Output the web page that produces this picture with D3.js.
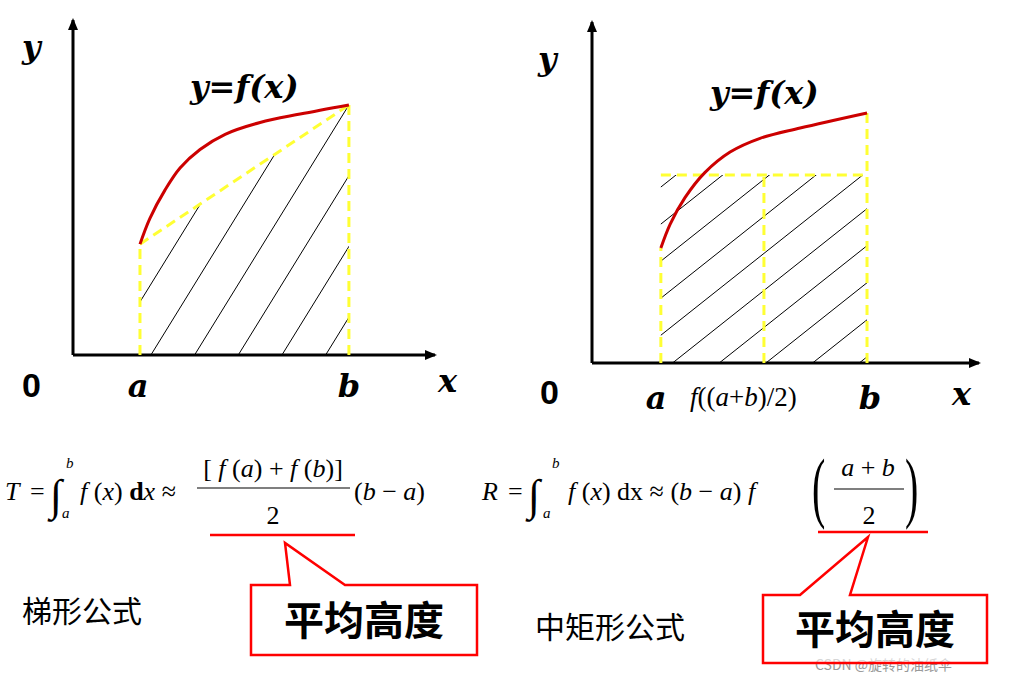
<!DOCTYPE html><html><head><meta charset="utf-8"><script src="https://d3js.org/d3.v7.min.js"></script>
<style>body{margin:0;background:#fff}</style></head><body>
<svg id="c" width="1021" height="681"></svg>
<script>
// data (abstract units 0..10)
const leftA=1.84, leftB=7.58;
const leftCurveX=[1.84,2.11,2.53,2.94,3.49,4.18,5.14,6.24,7.58];
const leftCurveY=[3.29,4.05,4.90,5.55,6.10,6.55,6.90,7.15,7.42];
const rightA=1.77, rightMid=4.42, rightB=7.07, rightRectH=5.48;
const rightCurveX=[1.77,2.01,2.39,2.90,3.55,4.32,5.35,7.07];
const rightCurveY=[3.35,4.05,4.82,5.55,6.15,6.55,6.85,7.29];
const hatchOffsets=[-6,-4.8,-3.6,-2.4,-1.2,0,1.2,2.4,3.6,4.8,6];

const svg=d3.select("#c");
const serif="'Liberation Serif','Times New Roman',serif";
const cjk="'Noto Sans CJK SC',sans-serif";
let clipId=0;
function panel(x0,y0,x1,y1,cx,cy,A,B,poly,dashSegs,hatchSlope){
  const x=d3.scaleLinear([0,10],[x0,x1]), y=d3.scaleLinear([0,10],[y0,y1]);
  const g=svg.append("g");
  const id="cl"+(clipId++);
  g.append("clipPath").attr("id",id).append("polygon").attr("points",poly.map(p=>[x(p[0]),y(p[1])].join(",")).join(" "));
  const hg=g.append("g").attr("clip-path",`url(#${id})`);
  hatchOffsets.forEach(o=>{const xb=A+0.3+o*1.0; hg.append("line").attr("x1",x(xb)).attr("y1",y(0)).attr("x2",x(xb+10)).attr("y2",y(10*hatchSlope)).attr("stroke","#000").attr("stroke-width",1);});
  g.append("line").attr("x1",x(0)).attr("y1",y(0)).attr("x2",x(10)-2).attr("y2",y(0)).attr("stroke","#000").attr("stroke-width",3);
  g.append("line").attr("x1",x(0)).attr("y1",y(0)).attr("x2",x(0)).attr("y2",y(10)+2).attr("stroke","#000").attr("stroke-width",3);
  g.append("path").attr("d",`M${x(10)},${y(0)} l-12,-5 l0,10z`).attr("fill","#000");
  g.append("path").attr("d",`M${x(0)},${y(10)} l-5,12 l10,0z`).attr("fill","#000");
  dashSegs.forEach(s=>g.append("line").attr("x1",x(s[0])).attr("y1",y(s[1])).attr("x2",x(s[2])).attr("y2",y(s[3])).attr("stroke","#ffff33").attr("stroke-width",3).attr("stroke-dasharray","10,6"));
  g.append("path").attr("d",d3.line().x(d=>x(d[0])).y(d=>y(d[1])).curve(d3.curveCatmullRom)(cx.map((v,i)=>[v,cy[i]]))).attr("fill","none").attr("stroke","#cc0000").attr("stroke-width",3);
  return {x,y};
}
panel(73,355,437,18,leftCurveX,leftCurveY,leftA,leftB,
  [[leftA,0],[leftA,leftCurveY[0]],[leftB,leftCurveY[8]],[leftB,0]],
  [[leftA,0,leftA,leftCurveY[0]],[leftB,0,leftB,leftCurveY[8]],[leftA,leftCurveY[0],leftB,leftCurveY[8]]],1.75);
panel(592,363,981,20,rightCurveX,rightCurveY,rightA,rightB,
  [[rightA,0],[rightA,rightRectH],[rightB,rightRectH],[rightB,0]],
  [[rightA,0,rightA,rightCurveY[0]],[rightMid,0,rightMid,rightRectH],[rightB,0,rightB,rightCurveY[7]],[rightA,rightRectH,rightB,rightRectH]],0.9);

function t(x,y,s,size,opt={}){return svg.append("text").attr("x",x).attr("y",y).text(s).attr("font-size",size)
  .attr("font-family",opt.f||serif).attr("font-style",opt.i?"italic":"normal").attr("font-weight",opt.b?"bold":"normal")
  .attr("text-anchor",opt.a||"start").attr("fill",opt.c||"#000");}
const arial="'Liberation Sans',Arial,sans-serif";
const bi="'DejaVu Serif','Liberation Serif',serif";
t(22,58,"y",32,{i:1,b:1,f:bi}); t(438,392,"x",32,{i:1,b:1,f:bi}); t(138,397,"a",32,{i:1,b:1,a:"middle",f:bi}); t(349,397,"b",32,{i:1,b:1,a:"middle",f:bi});
t(22,397,"0",34,{f:arial,b:1}); t(190,98,"y=f(x)",32,{i:1,b:1,f:bi});
t(538,70,"y",32,{i:1,b:1,f:bi}); t(952,405,"x",32,{i:1,b:1,f:bi}); t(656,409,"a",32,{i:1,b:1,a:"middle",f:bi}); t(870,409,"b",32,{i:1,b:1,a:"middle",f:bi});
t(540,404,"0",34,{f:arial,b:1}); t(710,104,"y=f(x)",32,{i:1,b:1,f:bi});
const fm=svg.append("text").attr("x",690).attr("y",406).attr("font-family",serif).attr("font-size",27);
fm.append("tspan").attr("font-style","italic").text("f");fm.append("tspan").text("((");fm.append("tspan").attr("font-style","italic").text("a");fm.append("tspan").text("+");fm.append("tspan").attr("font-style","italic").text("b");fm.append("tspan").text(")/2)");

function rich(x,y,parts,size){const e=svg.append("text").attr("x",x).attr("y",y).attr("font-family",serif).attr("font-size",size);
  parts.forEach(p=>e.append("tspan").attr("font-style",p[1]?"italic":"normal").attr("font-weight",p[2]?"bold":"normal").text(p[0]));return e;}
t(5,500,"T",26,{i:1}); t(30,500,"=",26);
t(50,510,"∫",44); t(66,468,"b",15,{i:1}); t(62,518,"a",15,{i:1});
rich(80,500,[["f",1],[" ("],["x",1],[") "],["d",0,1],["x",1],[" ≈"]],26);
rich(273,477,[["[ "],["f",1],[" ("],["a",1],[") + "],["f",1],[" ("],["b",1],[")]"]],26).attr("text-anchor","middle");
svg.append("line").attr("x1",197).attr("x2",350).attr("y1",488).attr("y2",488).attr("stroke","#000").attr("stroke-width",1.2);
t(273,524,"2",26,{a:"middle"});
rich(354,500,[["("],["b",1],[" − "],["a",1],[")"]],26);

t(482,500,"R",26,{i:1}); t(508,500,"=",26);
t(528,510,"∫",44); t(552,468,"b",15,{i:1}); t(543,518,"a",15,{i:1});
rich(568,500,[["f",1],[" ("],["x",1],[") dx ≈ ("],["b",1],[" − "],["a",1],[") "],["f",1]],26);
t(0,0,"(",50).attr("transform","translate(812,513) scale(0.8,1.55)");
t(0,0,")",50).attr("transform","translate(905,513) scale(0.8,1.55)");
rich(868,476,[["a",1],[" + "],["b",1]],26).attr("text-anchor","middle");
svg.append("line").attr("x1",834).attr("x2",904).attr("y1",489).attr("y2",489).attr("stroke","#000").attr("stroke-width",1.2);
t(869,524,"2",26,{a:"middle"});

t(815,670,"CSDN @旋转的油纸伞",14,{f:cjk,c:"#999"});
function callout(lx1,lx2,ly,bx,by,bw,bh,p1,p2,tip){
  svg.append("line").attr("x1",lx1).attr("x2",lx2).attr("y1",ly).attr("y2",ly).attr("stroke","#ff0000").attr("stroke-width",2.5);
  svg.append("path").attr("d",`M${bx},${by} L${p1},${by} L${tip[0]},${tip[1]} L${p2},${by} L${bx+bw},${by} L${bx+bw},${by+bh} L${bx},${by+bh}Z`)
   .attr("fill","#fff").attr("fill-opacity",0.6).attr("stroke","#ff0000").attr("stroke-width",2.5);
  t(bx+bw/2,by+bh/2+15,"平均高度",40,{f:cjk,a:"middle",b:1});
}
callout(210,355,535,251,585,226,70,290,345,[285,543]);
callout(818,928,532,763,595,224,68,800,850,[868,537]);
t(22,622,"梯形公式",30,{f:cjk}); t(535,638,"中矩形公式",30,{f:cjk});
</script></body></html>
